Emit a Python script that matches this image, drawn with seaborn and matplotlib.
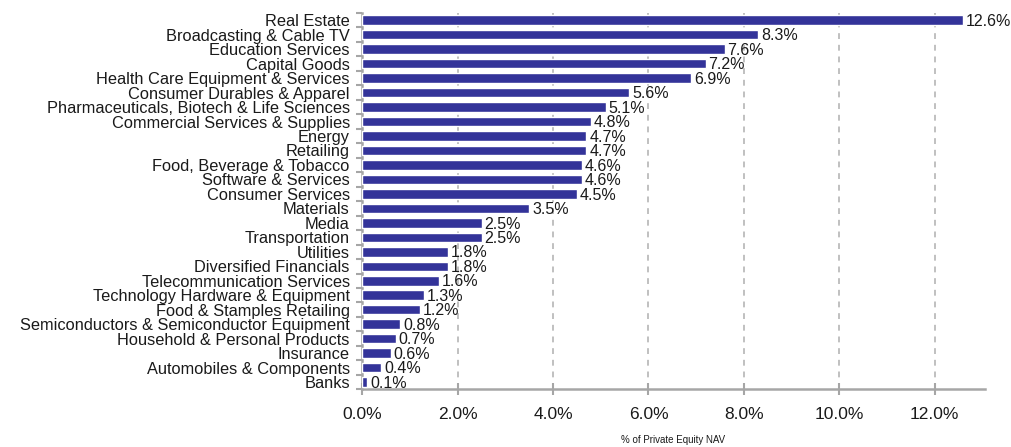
import matplotlib
matplotlib.use("Agg")
import matplotlib.pyplot as plt
import seaborn as sns
import pandas as pd
from matplotlib.ticker import FuncFormatter, FixedLocator

categories = [
    "Real Estate", "Broadcasting & Cable TV", "Education Services", "Capital Goods",
    "Health Care Equipment & Services", "Consumer Durables & Apparel",
    "Pharmaceuticals, Biotech & Life Sciences", "Commercial Services & Supplies",
    "Energy", "Retailing", "Food, Beverage & Tobacco", "Software & Services",
    "Consumer Services", "Materials", "Media", "Transportation", "Utilities",
    "Diversified Financials", "Telecommunication Services",
    "Technology Hardware & Equipment", "Food & Stamples Retailing",
    "Semiconductors & Semiconductor Equipment", "Household & Personal Products",
    "Insurance", "Automobiles & Components", "Banks",
]
values = [12.6, 8.3, 7.6, 7.2, 6.9, 5.6, 5.1, 4.8, 4.7, 4.7, 4.6, 4.6, 4.5,
          3.5, 2.5, 2.5, 1.8, 1.8, 1.6, 1.3, 1.2, 0.8, 0.7, 0.6, 0.4, 0.1]
x_ticks = [0, 2, 4, 6, 8, 10, 12]
x_label = "% of Private Equity NAV"

sns.set_theme(style="white")
plt.rcParams['font.family'] = ['Liberation Sans', 'DejaVu Sans']

df = pd.DataFrame({"sector": categories, "nav": values})

fig = plt.figure(figsize=(10.12, 4.47), dpi=100)
ax = fig.add_axes([0.358, 0.129, 0.615, 0.842])

sns.barplot(data=df, y="sector", x="nav", orient="h", color="#333399",
            saturation=1, width=0.66, ax=ax, zorder=3)

for i, v in enumerate(values):
    ax.text(v + 0.06, i + 0.08, f"{v:.1f}%", va="center", ha="left", fontsize=11.5,
            color="#1a1a1a", zorder=4)

ax.set_xlim(0, 13.05)
ax.set_ylim(len(categories) - 0.5, -0.5)
ax.xaxis.set_major_locator(FixedLocator(x_ticks))
ax.xaxis.set_major_formatter(FuncFormatter(lambda x, p: f"{x:.1f}%"))
ax.grid(axis="x", color="#c0c0c0", linestyle=(0, (3, 3)), linewidth=1.4, zorder=0)
ax.grid(axis="y", visible=False)

for s in ["top", "right"]:
    ax.spines[s].set_visible(False)
for s in ["left", "bottom"]:
    ax.spines[s].set_color("#a6a6a6")
    ax.spines[s].set_linewidth(1.8)

ax.set_ylabel("")
ax.set_xlabel(x_label, fontsize=7, labelpad=9, color="#1a1a1a")
ax.tick_params(axis="x", which="major", direction="inout", length=8, width=1.5,
               color="#a6a6a6", labelsize=12.5, pad=9, labelcolor="#1a1a1a", bottom=True)
ax.tick_params(axis="y", which="major", length=0, labelsize=11.8, pad=9,
               labelcolor="#1a1a1a")
ax.set_yticks([i + 0.5 for i in range(-1, len(categories))], minor=True)
ax.tick_params(axis="y", which="minor", direction="out", length=4, width=1.5,
               color="#a6a6a6", left=True)

fig.savefig("out.png", dpi=100)
